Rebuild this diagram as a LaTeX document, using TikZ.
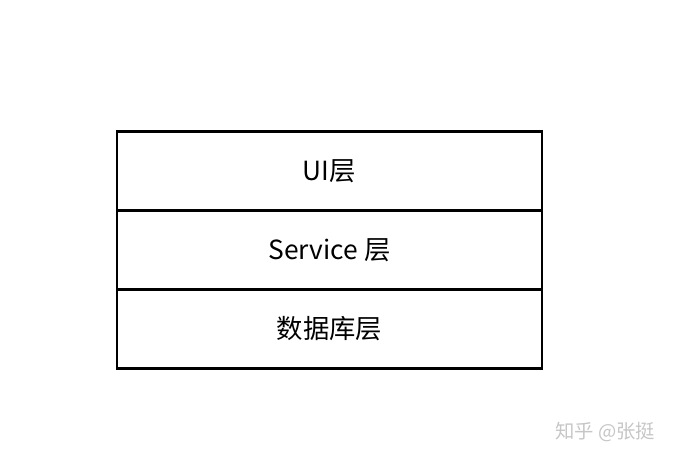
\documentclass[tikz,border=0pt]{standalone}
\usepackage{fontspec}
\setmainfont{Noto Sans CJK SC}
\usepackage{tikz}
\usetikzlibrary{positioning}

\begin{document}
\begin{tikzpicture}[
  node distance=0cm,
  layer/.style={draw, line width=1.4pt, minimum width=8.5cm, minimum height=1.58cm,
                outer sep=0pt, font=\fontsize{15}{18}\selectfont, align=center},
  watermark/.style={font=\fontsize{11}{13}\selectfont, text=gray!45},
]
\useasboundingbox (0,0) rectangle (13.52,-9.18);

\node[layer] (ui) at (6.59,-3.42) {UI层};
\node[layer, below=of ui] (svc) {Service 层};
\node[layer, below=of svc] (db) {数据库层};

\node[watermark] (zh) at (12.1,-8.64) {知乎 @张挺};
\end{tikzpicture}
\end{document}
